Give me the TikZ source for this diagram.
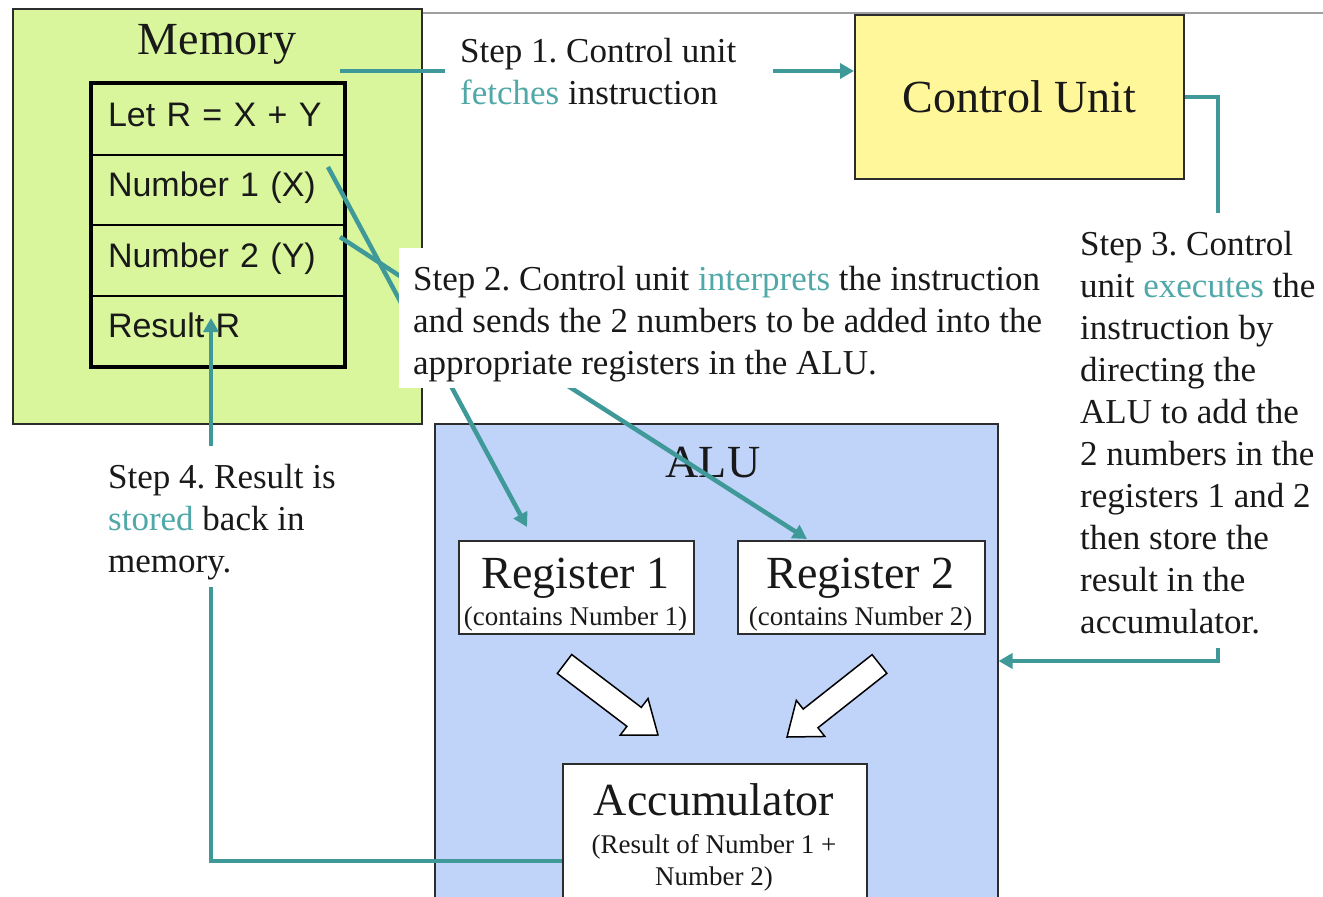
\documentclass[tikz,border=0pt]{standalone}
\usepackage{fontspec}
\setmainfont{Liberation Serif}
\newfontfamily\arialf{Liberation Sans}
\usetikzlibrary{arrows.meta}
\definecolor{memgreen}{RGB}{218,246,156}
\definecolor{cuyellow}{RGB}{255,247,153}
\definecolor{alublue}{RGB}{192,211,249}
\definecolor{tealline}{RGB}{64,153,153}
\definecolor{tealtext}{RGB}{80,168,168}
\definecolor{edge}{RGB}{45,45,45}
\definecolor{ink}{RGB}{25,25,25}
\newcommand\fbig{\fontsize{46}{50}\selectfont}
\newcommand\fstep{\fontsize{35}{42}\selectfont}
\newcommand\fsmall{\fontsize{27}{32}\selectfont}
\newcommand\hlt[1]{\textcolor{tealtext}{#1}}
\begin{document}
\frenchspacing
\begin{tikzpicture}[x=1pt,y=-1pt,
  panel/.style={draw=edge, line width=1.5pt, rectangle, inner sep=0pt, anchor=north west},
  memcell/.style={draw=black, line width=2pt, rectangle, minimum width=252pt, minimum height=70.5pt,
    text width=220pt, inner xsep=16pt, inner ysep=0pt, align=left,
    font=\arialf\fontsize{34}{38}\selectfont, text height=22pt, text depth=8pt, text=ink, anchor=north west},
  steptext/.style={fill=white, inner ysep=0pt, align=left, font=\fstep, text=ink, anchor=north west},
  conn/.style={draw=tealline, line width=4.5pt},
  arrowend/.style={-{Triangle[length=14pt,width=15pt]}},
  blockarrow/.style={draw=black, fill=white, line width=1.5pt, line join=miter},
  txt/.style={text=ink, anchor=base, inner sep=0pt}
]
\useasboundingbox (0,0) rectangle (1323,897);
\clip (0,0) rectangle (1323,897);

% Memory
\node[panel, fill=memgreen, minimum width=409pt, minimum height=415pt] (mem) at (12,8) {};
\draw[gray!75, line width=1.2pt] (mem.north east |- 0,13) -- (1323,13);
\node[txt, font=\fbig] (memt) at (217,54) {Memory};
\node[memcell] (c1) at (91,83) {Let R = X + Y};
\node[memcell] (c2) at (91,153.5) {Number 1 (X)};
\node[memcell] (c3) at (91,224) {Number 2 (Y)};
\node[memcell] (c4) at (91,294.5) {Result R};
\draw[black, line width=3.5pt] (c1.north west) rectangle (c4.south east);

% Control unit
\node[panel, fill=cuyellow, minimum width=329pt, minimum height=164pt, font=\fbig, text=ink] (cu) at (854,14) {Control Unit};

% ALU
\node[panel, fill=alublue, minimum width=563pt, minimum height=500pt] (alu) at (434,423) {};
\node[txt, font=\fbig] (alut) at (713,477) {ALU};

\node[panel, fill=white, minimum width=235pt, minimum height=93pt] (reg1) at (458,540) {};
\node[txt, font=\fbig] (reg1a) at (575.5,588) {Register 1};
\node[txt, font=\fsmall] (reg1b) at (575.5,625) {(contains Number 1)};

\node[panel, fill=white, minimum width=247pt, minimum height=93pt] (reg2) at (737,540) {};
\node[txt, font=\fbig] (reg2a) at (860.5,588) {Register 2};
\node[txt, font=\fsmall] (reg2b) at (860.5,625) {(contains Number 2)};

\node[panel, fill=white, minimum width=304pt, minimum height=200pt] (acc) at (562,763) {};
\node[txt, font=\fbig] (acca) at (714,815) {Accumulator};
\node[txt, font=\fsmall] (accb) at (714,853) {(Result of Number 1 +};
\node[txt, font=\fsmall] (accc) at (714,885) {Number 2)};

% block arrows
\begin{scope}[shift={(611.25,699.5)}, rotate=-37.2]
  \draw[blockarrow] (-58.7,-11.9) -- (28.7,-11.9) -- (28.7,-23) -- (58.7,0) -- (28.7,23) -- (28.7,11.9) -- (-58.7,11.9) -- cycle;
\end{scope}
\begin{scope}[shift={(833.25,700.5)}, rotate=-141.7]
  \draw[blockarrow] (-58.9,-11.9) -- (28.9,-11.9) -- (28.9,-23) -- (58.9,0) -- (28.9,23) -- (28.9,11.9) -- (-58.9,11.9) -- cycle;
\end{scope}

% connectors
\coordinate (fetch) at (340,71);
\draw[conn, arrowend] (fetch) -- (fetch -| cu.west);

\coordinate (n1) at (328,167);
\coordinate (n2) at (340,237);
\coordinate (s2a) at (406,312);
\coordinate (s2b) at (406,280);
\draw[conn] (n1) -- (s2a);
\draw[conn] (n2) -- (s2b);

\coordinate (s2c) at (451,386);
\coordinate (s2d) at (568,386);
\coordinate (t1) at (527,527);
\coordinate (t2) at (807,539);
\draw[conn, arrowend] (s2c) -- (t1);
\draw[conn, arrowend] (s2d) -- (t2);

\coordinate (bend3) at (1218,661);
\draw[conn, arrowend] (cu.east) -| (bend3) -- (bend3 -| alu.east);

\coordinate (bend4) at (211,861);
\coordinate (res) at (211,318);
\draw[conn, arrowend] (bend4 -| acc.west) -- (bend4) -- (res);

% step texts
\node[steptext, inner xsep=15pt] (s1) at (445,26)
  {\rule{0pt}{36pt}\makebox[298pt][l]{Step 1. Control unit}\\\hlt{fetches} instruction\rule[-17pt]{0pt}{17pt}};
\node[steptext, inner xsep=14pt] (s2) at (399,248)
  {\rule{0pt}{42pt}Step 2. Control unit \hlt{interprets} the instruction\\and sends the 2 numbers to be added into the\\appropriate registers in the ALU.\rule[-14pt]{0pt}{14pt}};
\node[steptext, inner xsep=13pt] (s3) at (1067,213)
  {\rule{0pt}{42pt}Step 3. Control\\unit \hlt{executes} the\\instruction by\\directing the\\ALU to add the\\2 numbers in the\\registers 1 and 2\\then store the\\result in the\\accumulator.\rule[-15pt]{0pt}{15pt}};
\node[steptext, inner xsep=8pt] (s4) at (100,446)
  {\rule{0pt}{42pt}Step 4. Result is\\\hlt{stored} back in\\memory.\rule[-15pt]{0pt}{15pt}};
\end{tikzpicture}
\end{document}
